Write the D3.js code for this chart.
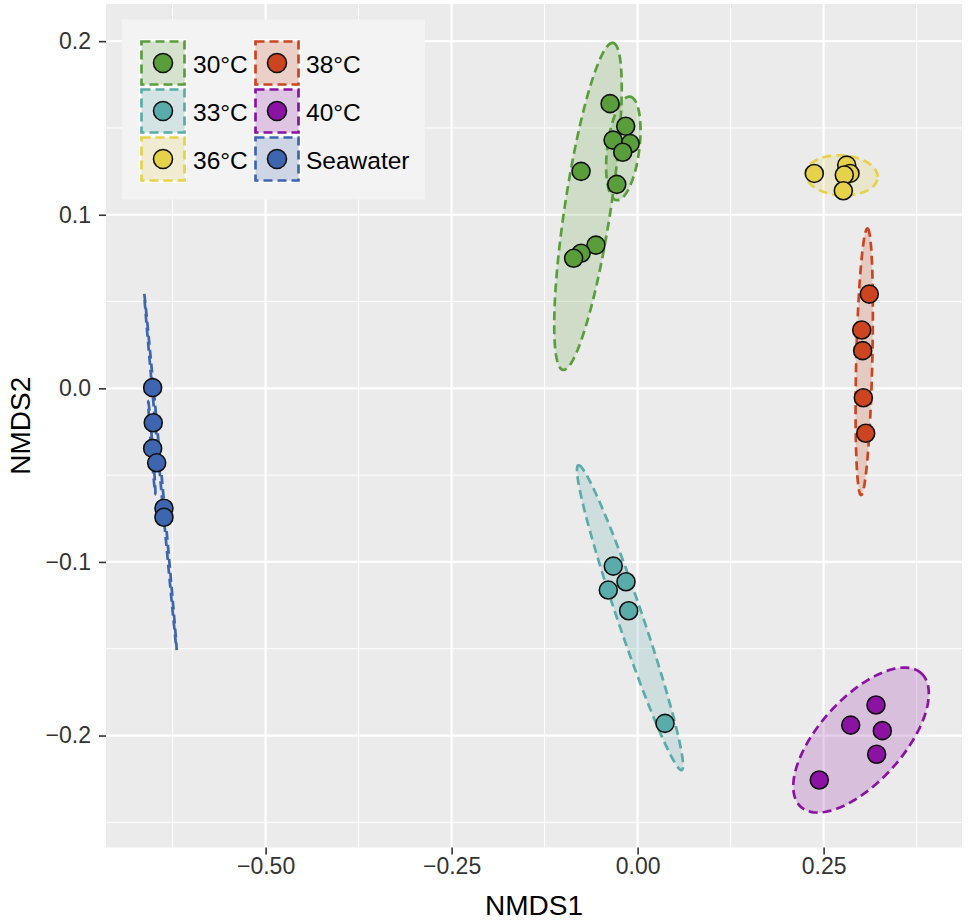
<!DOCTYPE html>
<html>
<head>
<meta charset="utf-8">
<script src="https://cdn.jsdelivr.net/npm/d3@7"></script>
<style>
  body { margin: 0; background: #fff; }
  svg { font-family: "Liberation Sans", Arial, Helvetica, sans-serif; }
</style>
</head>
<body>
<div id="viz"></div>
<script>
// groups, in legend order (column-major)
var groups = ["30°C", "33°C", "36°C", "38°C", "40°C", "Seawater"];
var colors = ["#5a9e3c", "#5aacaa", "#e6d14a", "#cc4420", "#8b12a3", "#3e66b0"];

// NMDS scores, [NMDS1, NMDS2]
var pts30 = [[-0.037, 0.164], [-0.016, 0.151], [-0.010, 0.141], [-0.033, 0.143], [-0.020, 0.136],
             [-0.076, 0.125], [-0.028, 0.1175], [-0.056, 0.0825], [-0.076, 0.0778], [-0.086, 0.0749]];
var pts33 = [[-0.0327, -0.1024], [-0.0156, -0.1114], [-0.0394, -0.1162], [-0.012, -0.1281], [0.0368, -0.193]];
var pts36 = [[0.2375, 0.1238], [0.281, 0.1286], [0.2855, 0.1238], [0.2778, 0.1229], [0.2765, 0.1138]];
var pts38 = [[0.3114, 0.0543], [0.3012, 0.0336], [0.3025, 0.0217], [0.3034, -0.0054], [0.3066, -0.0259]];
var pts40 = [[0.3204, -0.1824], [0.2864, -0.194], [0.3289, -0.1972], [0.3213, -0.2108], [0.2442, -0.2256]];
var ptsSea = [[-0.6518, 0.0004], [-0.651, -0.0198], [-0.6518, -0.0346], [-0.6464, -0.0429],
              [-0.6366, -0.0691], [-0.6366, -0.0743]];
var points = [pts30, pts33, pts36, pts38, pts40, ptsSea];

// ellipses: group, centre, two conjugate semi-axes (data units)
var ellipses = [
  ["30°C", -0.0667, 0.1048, 0.0336, 0.0942, 0.0305, -0.0020],
  ["30°C", -0.0192, 0.1382, 0.0090, 0.0298, 0.0213, -0.0012],
  ["33°C", -0.0102, -0.1321, -0.0695, 0.0878, 0.0159, 0.0023],
  ["36°C", 0.2742, 0.1227, 0.0484, -0.0010, 0.0005, 0.0115],
  ["38°C", 0.3046, 0.0153, 0.0043, 0.0768, 0.0108, -0.0001],
  ["40°C", 0.3003, -0.2026, 0.0809, 0.0385, 0.0419, -0.0162],
  ["Seawater", -0.6413, -0.0482, -0.0218, 0.1025, 0.0011, 0.0001],
  ["Seawater", -0.6529, -0.0341, -0.0047, 0.0264, 0.0010, 0.0000]
];

var xTicks = [-0.5, -0.25, 0, 0.25];
var xMinor = [-0.625, -0.375, -0.125, 0.125, 0.375];
var yTicks = [-0.2, -0.1, 0, 0.1, 0.2];
var yMinor = [-0.25, -0.15, -0.05, 0.05, 0.15];

var W = 970, H = 924;
var panel = { left: 106, right: 962, top: 4, bottom: 847.5 };

var x = d3.scaleLinear().domain([-0.7145, 0.436]).range([panel.left, panel.right]);
var y = d3.scaleLinear().domain([-0.2645, 0.2214]).range([panel.bottom, panel.top]);
var color = d3.scaleOrdinal().domain(groups).range(colors);

var svg = d3.select("#viz").append("svg").attr("width", W).attr("height", H);

// panel background
svg.append("rect")
  .attr("x", panel.left).attr("y", panel.top)
  .attr("width", panel.right - panel.left).attr("height", panel.bottom - panel.top)
  .attr("fill", "#ebebeb");

var grid = svg.append("g");
grid.selectAll(".xminor").data(xMinor).enter().append("line")
  .attr("x1", d => x(d)).attr("x2", d => x(d))
  .attr("y1", panel.top).attr("y2", panel.bottom)
  .attr("stroke", "#fff").attr("stroke-width", 1);
grid.selectAll(".yminor").data(yMinor).enter().append("line")
  .attr("y1", d => y(d)).attr("y2", d => y(d))
  .attr("x1", panel.left).attr("x2", panel.right)
  .attr("stroke", "#fff").attr("stroke-width", 1);
grid.selectAll(".xmajor").data(xTicks).enter().append("line")
  .attr("x1", d => x(d)).attr("x2", d => x(d))
  .attr("y1", panel.top).attr("y2", panel.bottom)
  .attr("stroke", "#fff").attr("stroke-width", 2.2);
grid.selectAll(".ymajor").data(yTicks).enter().append("line")
  .attr("y1", d => y(d)).attr("y2", d => y(d))
  .attr("x1", panel.left).attr("x2", panel.right)
  .attr("stroke", "#fff").attr("stroke-width", 2.2);

// ellipses
var line = d3.line().x(d => x(d[0])).y(d => y(d[1])).curve(d3.curveLinearClosed);
function ellipsePts(e) {
  var out = [];
  for (var k = 0; k < 120; k++) {
    var t = 2 * Math.PI * k / 120;
    out.push([e[1] + e[3] * Math.cos(t) + e[5] * Math.sin(t),
              e[2] + e[4] * Math.cos(t) + e[6] * Math.sin(t)]);
  }
  return out;
}
svg.append("g").selectAll("path").data(ellipses).enter().append("path")
  .attr("d", d => line(ellipsePts(d)))
  .attr("fill", d => color(d[0])).attr("fill-opacity", 0.2)
  .attr("stroke", d => color(d[0])).attr("stroke-width", 2.7)
  .attr("stroke-dasharray", "9,5");

// points
var pg = svg.append("g");
points.forEach(function (arr, i) {
  pg.selectAll(".p" + i).data(arr).enter().append("circle")
    .attr("cx", d => x(d[0])).attr("cy", d => y(d[1])).attr("r", 9)
    .attr("fill", colors[i]).attr("stroke", "#111").attr("stroke-width", 1.6);
});

// axes
var xAxis = svg.append("g").attr("transform", "translate(0," + panel.bottom + ")")
  .call(d3.axisBottom(x).tickValues(xTicks).tickFormat(d3.format(".2f")).tickSize(7).tickPadding(3));
var yAxis = svg.append("g").attr("transform", "translate(" + panel.left + ",0)")
  .call(d3.axisLeft(y).tickValues(yTicks).tickFormat(d3.format(".1f")).tickSize(7).tickPadding(8));
[xAxis, yAxis].forEach(function (a) {
  a.select(".domain").remove();
  a.selectAll(".tick line").attr("stroke", "#333").attr("stroke-width", 1.6);
  a.selectAll(".tick text").attr("fill", "#333").style("font-size", "23px")
    .style("font-family", "'Liberation Sans', Arial, sans-serif");
});

svg.append("text").attr("x", (panel.left + panel.right) / 2).attr("y", 915)
  .attr("text-anchor", "middle").style("font-size", "28px").text("NMDS1");
svg.append("text").attr("transform", "translate(30," + (panel.top + panel.bottom) / 2 + ") rotate(-90)")
  .attr("text-anchor", "middle").style("font-size", "28px").text("NMDS2");

// legend
var legend = svg.append("g");
legend.append("rect").attr("x", 122).attr("y", 19.5).attr("width", 303).attr("height", 180)
  .attr("fill", "#f3f3f3");
var keyX = [140, 254], keyY = [40, 88, 136], keySize = 46, labelX = [193, 306];
groups.forEach(function (g, i) {
  var col = Math.floor(i / 3), row = i % 3;
  var kx = keyX[col], ky = keyY[row];
  legend.append("rect").attr("x", kx).attr("y", ky).attr("width", keySize).attr("height", keySize)
    .attr("fill", "#f3f3f3").attr("stroke", "#fff").attr("stroke-width", 1.5);
  legend.append("rect").attr("x", kx + 1.5).attr("y", ky + 1.5)
    .attr("width", keySize - 3).attr("height", keySize - 3)
    .attr("fill", color(g)).attr("fill-opacity", 0.2)
    .attr("stroke", color(g)).attr("stroke-width", 2.7).attr("stroke-dasharray", "9,5");
  legend.append("circle").attr("cx", kx + keySize / 2).attr("cy", ky + keySize / 2).attr("r", 9.5)
    .attr("fill", color(g)).attr("stroke", "#111").attr("stroke-width", 1.6);
  legend.append("text").attr("x", labelX[col]).attr("y", ky + keySize / 2 + 9.5)
    .style("font-size", "24.5px").text(g);
});
</script>
</body>
</html>
